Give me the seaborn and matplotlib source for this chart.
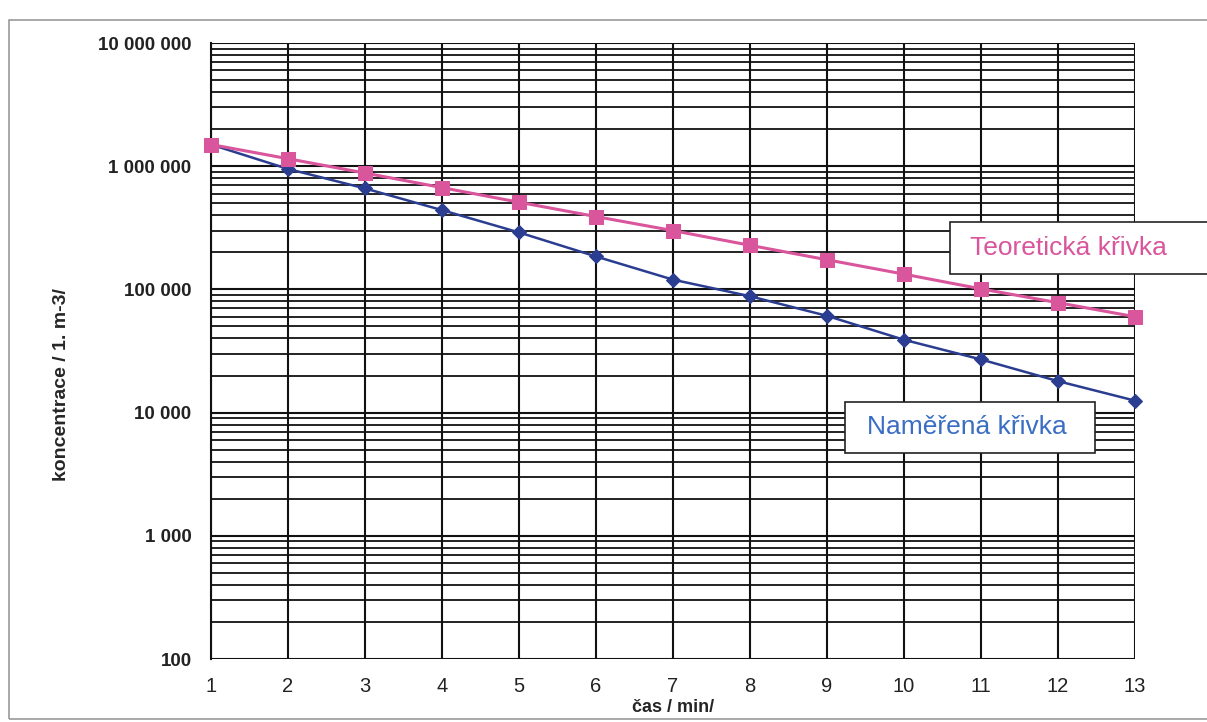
import numpy as np
import pandas as pd
import seaborn as sns
import matplotlib.pyplot as plt
from matplotlib.ticker import LogLocator, FuncFormatter, NullFormatter
from matplotlib.patches import Rectangle

# data
cas = [1, 2, 3, 4, 5, 6, 7, 8, 9, 10, 11, 12, 13]
teoreticka = [1500000, 1150000, 880000, 670000, 510000, 390000, 300000,
              228000, 174000, 133000, 101000, 78000, 60000]
namerena = [1500000, 950000, 660000, 440000, 290000, 185000, 120000,
            88000, 61000, 39000, 27000, 18000, 12500]
y_ticks = [100, 1000, 10000, 100000, 1000000, 10000000]

pink = "#d9559c"
blue = "#2b3d91"

sns.set_style("white")
plt.rcParams['font.family'] = ['Liberation Sans', 'DejaVu Sans']

df = pd.DataFrame({"cas": cas, "teor": teoreticka, "mer": namerena})

fig = plt.figure(figsize=(12.07, 7.22), dpi=100)
ax = fig.add_axes([211/1207, 1-659/722, (1135-211)/1207, (659-43)/722])

ax.set_yscale("log")
ax.set_ylim(100, 10000000)
ax.set_xlim(1, 13)

sns.lineplot(data=df, x="cas", y="mer", ax=ax, color=blue, lw=1.8,
             marker="D", markersize=7, markeredgecolor=blue, zorder=4)
sns.lineplot(data=df, x="cas", y="teor", ax=ax, color=pink, lw=2.2,
             marker="s", markersize=10, markeredgecolor=pink, zorder=5)
for l in ax.lines:
    l.set_clip_on(False)

ax.set_xticks(cas)
ax.set_yticks(y_ticks)
ax.yaxis.set_minor_locator(LogLocator(base=10, subs=np.arange(2, 10)))
ax.yaxis.set_minor_formatter(NullFormatter())
ax.yaxis.set_major_formatter(FuncFormatter(lambda v, p: f"{int(v):,}".replace(",", " ")))

ax.grid(True, which="major", axis="both", color="#111111", lw=1.5)
ax.grid(True, which="minor", axis="y", color="#111111", lw=1.3)
for s in ax.spines.values():
    s.set_visible(False)
ax.spines["left"].set_visible(True)
ax.spines["left"].set_color("#111111")
ax.spines["left"].set_linewidth(1.5)

ax.tick_params(axis="y", which="major", direction="out", length=6, width=1.3,
               color="#111111", pad=8, labelsize=13.5, labelcolor="#222222")
ax.tick_params(axis="y", which="minor", length=0)
ax.tick_params(axis="x", direction="out", length=5, width=1.3, color="#111111",
               pad=8, labelsize=14.5, labelcolor="#222222")
for t in ax.get_yticklabels():
    t.set_fontweight("bold")

ax.set_xlabel("čas / min/", fontsize=13, fontweight="bold", labelpad=2)
ax.set_ylabel("koncentrace / 1. m-3/", fontsize=14, fontweight="bold")
ax.yaxis.set_label_coords((70-211)/(1135-211), 1 - (385-43)/(659-43))

# outer chart border
fig.patches.append(Rectangle((9/1207, 1-719/722), 1.02, (719-20)/722,
                             transform=fig.transFigure, fill=False,
                             edgecolor="#9a9a9a", lw=1.2))

# series labels
fig.patches.append(Rectangle((950/1207, 1-274/722), 0.3, 52/722,
                             transform=fig.transFigure, facecolor="white",
                             edgecolor="#222222", lw=1.2, zorder=6))
fig.text(970/1207, 1-248/722, "Teoretická křivka", color=pink, fontsize=19,
         ha="left", va="center", zorder=7)
fig.patches.append(Rectangle((845/1207, 1-453/722), 250/1207, 51/722,
                             transform=fig.transFigure, facecolor="white",
                             edgecolor="#222222", lw=1.2, zorder=6))
fig.text(867/1207, 1-427/722, "Naměřená křivka", color="#3a6ec4", fontsize=19,
         ha="left", va="center", zorder=7)

fig.savefig("out.png", dpi=100)
